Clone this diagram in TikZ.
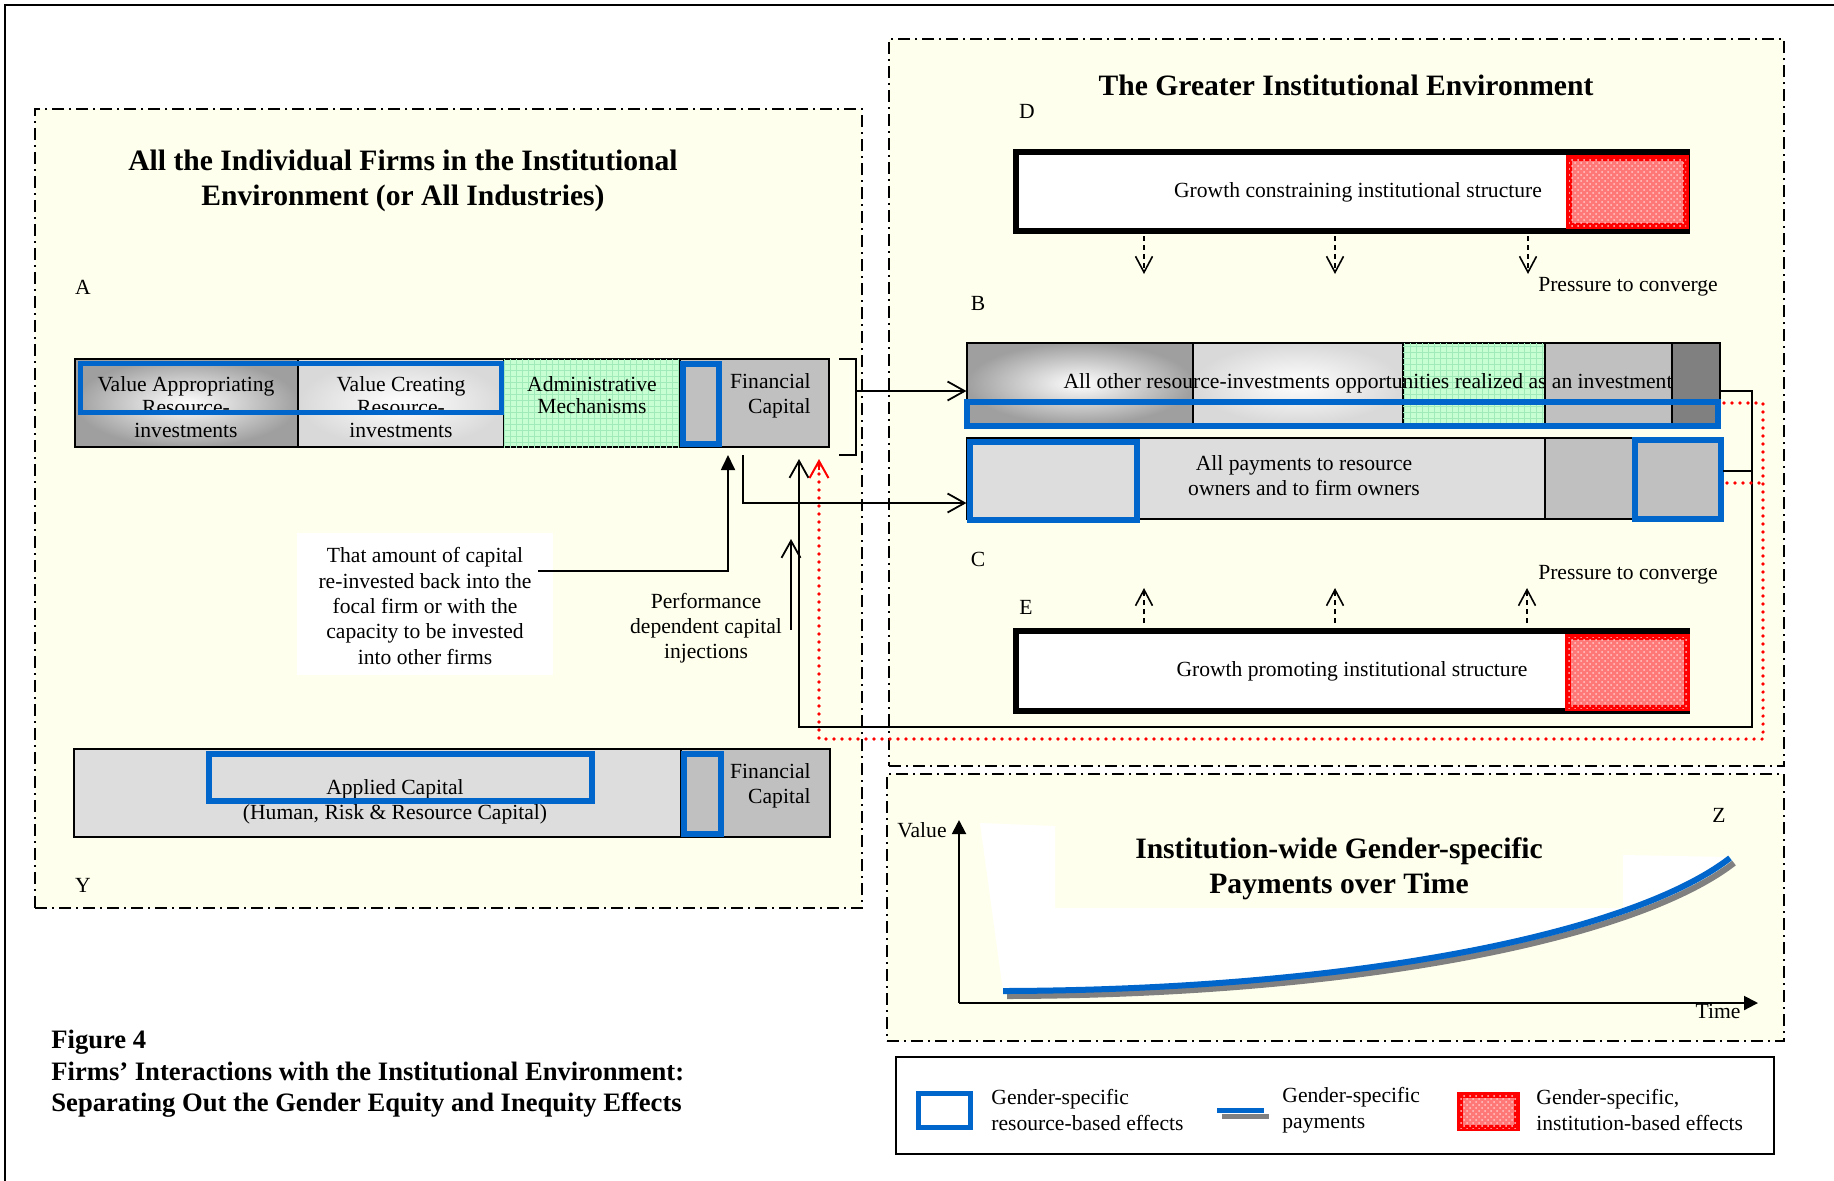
\documentclass[tikz,border=0pt]{standalone}
\usepackage{fontspec}
\setmainfont{Liberation Serif}
\usetikzlibrary{arrows.meta,fit,patterns}
\definecolor{bgy}{RGB}{255,255,238}
\definecolor{blu}{RGB}{0,102,204}
\definecolor{gA}{RGB}{192,192,192}
\definecolor{gL}{RGB}{221,221,221}
\definecolor{gD}{RGB}{128,128,128}
\definecolor{grn}{RGB}{200,255,210}
\definecolor{grnl}{RGB}{160,235,185}
\definecolor{pnk}{RGB}{255,120,120}
\definecolor{pnkl}{RGB}{255,200,200}
\newcommand\myfs[2]{\fontsize{#1}{#2}\selectfont}
\begin{document}
\begin{tikzpicture}[x=0.5pt,y=-0.5pt,
  frm/.style={draw=black, line width=1pt, dash pattern=on 6pt off 2.5pt on 1pt off 2.5pt, fill=bgy, inner sep=0pt},
  box/.style={draw=black, line width=0.6pt, inner sep=0pt},
  blubox/.style={draw=blu, line width=2.8pt, inner sep=0pt},
  redbox/.style={draw=red, line width=3pt, inner sep=0pt, fill=pnk, postaction={pattern=crosshatch dots, pattern color=pnkl}},
  grnbox/.style={box, fill=grn, postaction={pattern=grid, pattern color=grnl}},
  instbar/.style={draw=black, line width=3pt, fill=white, inner sep=0pt},
  txt/.style={font=\myfs{10.8}{11.3}, align=center, inner sep=0pt},
  txtb/.style={font=\myfs{10.8}{12.5}, align=center, inner sep=0pt},
  lbl/.style={font=\myfs{10.8}{12}, inner sep=0pt},
  ttl/.style={font=\bfseries\myfs{14.8}{17.5}, align=center, inner sep=0pt},
  conn/.style={line width=0.9pt},
  openarr/.style={-{Straight Barb[length=8.5pt,width=9.5pt,line width=0.9pt]}},
  press/.style={line width=0.8pt, dash pattern=on 2.5pt off 2pt, -{Straight Barb[length=8pt,width=8.5pt,line width=0.8pt]}},
  reddot/.style={draw=red, line width=1.8pt, dash pattern=on 0pt off 4pt, line cap=round},
  redarr/.style={-{Straight Barb[length=8.5pt,width=9.5pt,line width=1pt]}},
  axisarr/.style={line width=1pt, -{Triangle[length=7pt,width=7pt]}}
]
\useasboundingbox (0,0) rectangle (1834,1180);
\clip (0,0) rectangle (1834,1180);
\fill[white] (0,0) rectangle (1834,1180);
\draw[line width=1.3pt] (5,1300) -- (5,5) -- (1900,5);

% frames
\node[frm, fit={(35,109) (862,908)}] (firms) {};
\node[frm, fit={(889,39) (1784,766)}] (env) {};
\node[frm, fit={(887,774) (1784,1041)}] (graph) {};

% titles
\node[ttl] (firmsT) at (403,181) {All the Individual Firms in the Institutional\\Environment (or All Industries)};
\node[ttl] (envT) at (1346,85) {The Greater Institutional Environment};

% letters
\node[lbl] (lA) at (83,287) {A};
\node[lbl] (lD) at (1027,111) {D};
\node[lbl] (lB) at (978,303) {B};
\node[lbl] (lC) at (978,559) {C};
\node[lbl] (lE) at (1026,607) {E};
\node[lbl] (lY) at (83,885) {Y};
\node[lbl] (lZ) at (1719,815) {Z};

% bar A
\node[box, inner color=white, outer color=gray!75, fit={(75,359) (298,447)}] (a1) {};
\node[box, inner color=white, outer color=gray!30, fit={(298,359) (504,447)}] (a2) {};
\node[grnbox, fit={(504,359) (680,447)}] (a3) {};
\node[box, fill=gA, fit={(680,359) (829,447)}] (a4) {};
\node[txt] (a1t) at (186,407) {Value Appropriating\\Resource-\\investments};
\node[txt] (a2t) at (401,407) {Value Creating\\Resource-\\investments};
\node[txt] (a3t) at (592,395) {Administrative\\Mechanisms};
\node[txtb, align=right, anchor=east] (a4t) at (811,396) {Financial\\Capital};
\node[blubox, fit={(80.6,363.6) (501.4,412.4)}] (a12b) {};
\node[blubox, fit={(682.8,363.8) (719.2,444.2)}] (a4b) {};

% bracket
\coordinate (brT) at (839,359);
\coordinate (brTR) at (856,359);
\coordinate (brBR) at (856,455);
\coordinate (brB) at (839,455);
\coordinate (brM) at (856,391);
\draw[conn] (brT) -- (brTR) -- (brBR) -- (brB);

% re-invest text box
\node[fill=white, inner sep=0pt, fit={(297,533) (553,675)}] (reinvB) {};
\node[txtb, font=\myfs{10.8}{12.7}] (reinvT) at (425,606) {That amount of capital\\re-invested back into the\\focal firm or with the\\capacity to be invested\\into other firms};
\coordinate (re0) at (538,571);
\coordinate (re1) at (728,571);
\coordinate (re2) at (728,455);
\draw[conn, -{Triangle[length=7.5pt,width=7pt]}] (re0) -- (re1) -- (re2);

% performance
\node[txtb] (perfT) at (706,628) {Performance\\dependent capital\\injections};
\coordinate (perf0) at (791,630);
\coordinate (perf1) at (791,539);
\draw[conn, openarr] (perf0) -- (perf1);

% bar D
\node[instbar, fit={(1016,152) (1687,231)}] (dbar) {};
\node[redbox, fit={(1569,158) (1686,226)}] (dred) {};
\node[txt] (dT) at (1358,192) {Growth constraining institutional structure};
\foreach \i/\x in {1/1144,2/1335,3/1528}{
  \coordinate (ds\i) at (\x,236);
  \coordinate (de\i) at (\x,274);
  \draw[press] (ds\i) -- (de\i);
}
\node[txt] (p1) at (1628,287) {Pressure to converge};

% bar B
\node[box, inner color=white, outer color=gray!75, fit={(967,343) (1193,424)}] (b1) {};
\node[box, inner color=white, outer color=gray!30, fit={(1193,343) (1403,424)}] (b2) {};
\node[grnbox, fit={(1403,343) (1545,424)}] (b3) {};
\node[box, fill=gA, fit={(1545,343) (1672,424)}] (b4) {};
\node[box, fill=gD, fit={(1672,343) (1720,424)}] (b5) {};
\node[txt] (bT) at (1368,383) {All other resource-investments opportunities realized as an investment};
\node[blubox, fit={(966.8,401.8) (1718.2,426.2)}] (bblue) {};

% bar C
\node[box, fill=gL, fit={(967,438) (1545,519)}] (c1) {};
\node[box, fill=gA, fit={(1545,438) (1722,519)}] (c2) {};
\node[txtb] (cT) at (1304,476) {All payments to resource\\owners and to firm owners};
\node[blubox, fit={(969.8,441.8) (1137.2,520.2)}] (cbl) {};
\node[blubox, fit={(1634.8,439.8) (1721.2,519.2)}] (cbr) {};

\coordinate (pay0) at (743,455);
\coordinate (pay1) at (743,503);
\draw[conn, openarr] (brM) -- (brM -| b1.west);
\draw[conn, openarr] (pay0) -- (pay1) -- (pay1 -| c1.west);

% bar E
\node[instbar, fit={(1016,631) (1687,711)}] (ebar) {};
\node[redbox, fit={(1568,637) (1687,708)}] (ered) {};
\node[txt] (eT) at (1352,671) {Growth promoting institutional structure};
\foreach \i/\x in {1/1144,2/1335,3/1527}{
  \coordinate (es\i) at (\x,623);
  \coordinate (ee\i) at (\x,588);
  \draw[press] (es\i) -- (ee\i);
}
\node[txt] (p2) at (1628,575) {Pressure to converge};

% feedback connectors
\coordinate (k1) at (1719,391);
\coordinate (k2) at (1752,391);
\coordinate (k3) at (1723,471);
\coordinate (k4) at (1752,471);
\coordinate (k5) at (1752,727);
\coordinate (k6) at (799,727);
\coordinate (k7) at (799,459);
\draw[conn, openarr] (k1) -- (k2) -- (k5) -- (k6) -- (k7);
\draw[conn] (k3) -- (k4);

\coordinate (r1) at (1724,403);
\coordinate (r2) at (1763,403);
\coordinate (r3) at (1727,483);
\coordinate (r4) at (1763,483);
\coordinate (r5) at (1763,739);
\coordinate (r6) at (819,739);
\coordinate (r7) at (819,461);
\draw[reddot] (r1) -- (r2) -- (r5) -- (r6) -- (r7);
\draw[reddot] (r3) -- (r4);
\coordinate (r8) at (819,470);
\coordinate (r9) at (819,459);
\draw[red, line width=1pt, redarr] (r8) -- (r9);

% bar Y
\node[box, fill=gL, fit={(74,749) (681,837)}] (y1) {};
\node[box, fill=gA, fit={(681,749) (830,837)}] (y2) {};
\node[txtb] (yT) at (395,802) {Applied Capital\\(Human, Risk \& Resource Capital)};
\node[txtb, align=right, anchor=east] (y2t) at (811,786) {Financial\\Capital};
\node[blubox, fit={(208.8,753.8) (592.2,801.2)}] (yb1) {};
\node[blubox, fit={(683.8,753.8) (721.2,834.2)}] (yb2) {};

% graph
\fill[white] (980,823) -- (1055,826) -- (1055,908) -- (1623,908) -- (1623,855) -- (1730,857)
   .. controls (1630,935) and (1350,990) .. (1003,991) -- cycle;
\coordinate (orig) at (959,1003);
\coordinate (vtop) at (959,820);
\coordinate (tend) at (1758,1003);
\draw[axisarr] (orig) -- (vtop);
\draw[axisarr] (orig) -- (tend);
\draw[gD, line width=3pt] (1007,996) .. controls (1354,995) and (1634,940) .. (1734,863);
\draw[blu, line width=3pt] (1003,991) .. controls (1350,990) and (1630,935) .. (1730,858);
\node[lbl] (vT) at (922,830) {Value};
\node[lbl] (tT) at (1718,1011) {Time};
\node[ttl] (gT) at (1339,869) {Institution-wide Gender-specific\\Payments over Time};

% legend
\node[draw=black, line width=1pt, fill=white, inner sep=0pt, fit={(896,1057) (1774,1154)}] (leg) {};
\node[blubox, fill=white, fit={(918.6,1093.6) (970.4,1127.4)}] (lg1) {};
\node[txtb, font=\myfs{10.8}{13}, align=left, anchor=west] (lg1t) at (991,1110) {Gender-specific\\resource-based effects};
\fill[gD] (1222,1114) rectangle (1269,1119);
\fill[blu] (1217,1108) rectangle (1264,1113);
\node[txtb, font=\myfs{10.8}{13}, align=left, anchor=west] (lg2t) at (1282,1110) {Gender-specific\\payments};
\node[redbox, fit={(1460,1095) (1517,1128)}] (lg3) {};
\node[txtb, font=\myfs{10.8}{13}, align=left, anchor=west] (lg3t) at (1536,1110) {Gender-specific,\\institution-based effects};

% caption
\node[font=\bfseries\myfs{13.3}{15.8}, align=left, anchor=west, inner sep=0pt] (capt) at (51,1074) {Figure 4\\Firms’ Interactions with the Institutional Environment:\\Separating Out the Gender Equity and Inequity Effects};
\end{tikzpicture}
\end{document}
